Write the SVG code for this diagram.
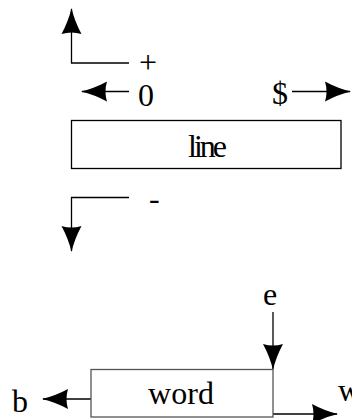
<svg xmlns="http://www.w3.org/2000/svg" width="352" height="420" viewBox="0 0 352 420">
  <defs>
    <marker id="ah" markerUnits="userSpaceOnUse" markerWidth="26" markerHeight="20" refX="25" refY="10" orient="auto" overflow="visible">
      <path d="M0,0 Q13,7 26,10 Q13,13 0,20 Q3,10 0,0 Z" fill="#000"/>
    </marker>
  </defs>
  <style>
    .t { font-family: "Liberation Serif", "Times New Roman", serif; font-size: 32px; fill: #000; }
    .c { fill: none; stroke: #000; stroke-width: 1.3; }
    .box { fill: #fff; stroke: #000; stroke-width: 1.3; }
    .box2 { fill: #fff; stroke: #555; stroke-width: 1.3; }
  </style>
  <rect width="352" height="420" fill="#fff"/>

  <g id="connectors">
    <polyline class="c" points="129,63 71.5,63 71.5,9" marker-end="url(#ah)"/>
    <line class="c" x1="129" y1="91.5" x2="82" y2="91.5" marker-end="url(#ah)"/>
    <line class="c" x1="292" y1="91.5" x2="350" y2="91.5" marker-end="url(#ah)"/>
    <polyline class="c" points="129,197.5 71.5,197.5 71.5,251" marker-end="url(#ah)"/>
    <line class="c" x1="273" y1="312" x2="273" y2="369" marker-end="url(#ah)"/>
    <line class="c" x1="91" y1="399" x2="43" y2="399" marker-end="url(#ah)"/>
    <line class="c" x1="273" y1="414" x2="337" y2="414" marker-end="url(#ah)"/>
  </g>

  <g id="labels">
    <text class="t" x="139" y="73">+</text>
    <text class="t" x="138" y="106">0</text>
    <text class="t" x="272" y="104">$</text>
    <text class="t" x="149" y="209">-</text>
    <text class="t" x="270" y="305" text-anchor="middle">e</text>
    <text class="t" x="12" y="412">b</text>
    <text class="t" x="338" y="401">w</text>
  </g>

  <g id="line">
    <rect class="box" x="71.5" y="120.5" width="269.5" height="48"/>
    <text class="t" x="188" y="157" letter-spacing="-3">line</text>
  </g>

  <g id="word">
    <rect class="box2" x="91" y="369.5" width="182" height="47.5"/>
    <text class="t" x="181" y="404" text-anchor="middle">word</text>
  </g>
</svg>
